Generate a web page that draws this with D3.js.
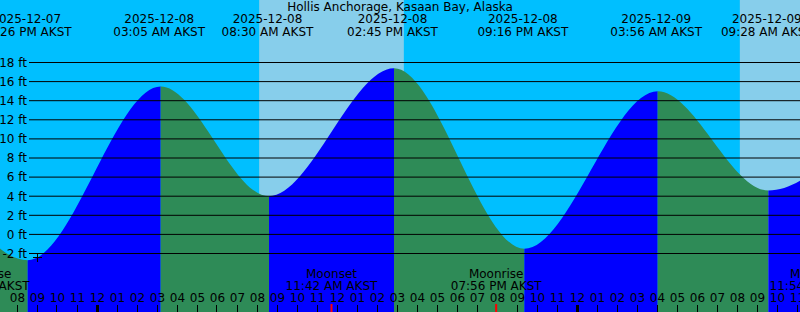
<!DOCTYPE html>
<html>
<head>
<meta charset="utf-8">
<script src="https://cdn.jsdelivr.net/npm/d3@7"></script>
<style>
  body { margin: 0; background: #fff; }
  text { font-family: "DejaVu Sans", sans-serif; font-size: 12px; fill: #000; }
</style>
</head>
<body>
<div id="chart"></div>
<script>
var svgWidth = 800;
var svgHeight = 312;

var title = "Hollis Anchorage, Kasaan Bay, Alaska";

// high / low tide events (AKST) and heights in ft
var tideTimes = ["2025-12-07 14:10", "2025-12-07 20:26", "2025-12-08 03:05", "2025-12-08 08:30",
    "2025-12-08 14:45", "2025-12-08 21:16", "2025-12-09 03:56", "2025-12-09 09:28", "2025-12-09 15:50"];
var tideHeights = [15.5, -2.7, 15.5, 4.0, 17.4, -1.5, 15.0, 4.6, 16.5];

// daylight spans
var sunrises = ["2025-12-08 08:05", "2025-12-09 08:07"];
var sunsets = ["2025-12-08 15:19", "2025-12-09 15:21"];

// moon events
var moonTimes = ["2025-12-07 18:20", "2025-12-08 11:42", "2025-12-08 19:56", "2025-12-09 11:54"];
var moonNames = ["Moonrise", "Moonset", "Moonrise", "Moonset"];

var levelTicks = [-2, 0, 2, 4, 6, 8, 10, 12, 14, 16, 18];

var parse = d3.utcParse("%Y-%m-%d %H:%M");
var fmtDate = d3.utcFormat("%Y-%m-%d");
var fmtTime = d3.utcFormat("%I:%M %p AKST");

var x = d3.scaleUtc()
    .domain([parse("2025-12-07 19:07"), parse("2025-12-09 11:07")])
    .range([-0.5, 799.5]);
// keep 20px per hour with midnight at 97.5
x.domain([new Date(Date.UTC(2025, 11, 7, 19, 7, 30)), new Date(Date.UTC(2025, 11, 9, 11, 7, 30))])
    .range([0, 800]);

var y = d3.scaleLinear()
    .domain([-2, 18])
    .range([253.5, 62.5]);

var shift = 1.5;

var svg = d3.select("#chart")
    .append("svg")
    .attr("width", svgWidth)
    .attr("height", svgHeight);

// night sky
svg.append("rect")
    .attr("width", svgWidth)
    .attr("height", svgHeight)
    .attr("fill", "#00BFFF");

// daylight
sunrises.forEach(function (s, i) {
    var x0 = x(parse(s)), x1 = x(parse(sunsets[i]));
    svg.append("rect")
        .attr("x", x0)
        .attr("y", 0)
        .attr("width", x1 - x0)
        .attr("height", svgHeight)
        .attr("fill", "#87CEEB");
});

var tideData = tideTimes.map(function (t, i) {
    return { t: parse(t), h: tideHeights[i] };
});

var area = d3.area()
    .x(d => x(d.t) + shift)
    .y0(svgHeight)
    .y1(d => y(d.h))
    .curve(d3.curveMonotoneX);

var defs = svg.append("defs");

// one clipped copy of the area per rising / falling phase
for (var i = 0; i < tideData.length - 1; i++) {
    var a = x(tideData[i].t) + shift;
    var b = x(tideData[i + 1].t) + shift;
    defs.append("clipPath")
        .attr("id", "seg" + i)
        .append("rect")
        .attr("x", a)
        .attr("y", 0)
        .attr("width", b - a)
        .attr("height", svgHeight);
    svg.append("path")
        .datum(tideData)
        .attr("d", area)
        .attr("clip-path", "url(#seg" + i + ")")
        .attr("fill", tideData[i + 1].h > tideData[i].h ? "#0000FF" : "#2E8B57");
}

// level grid
svg.selectAll(".grid")
    .data(levelTicks)
    .enter()
    .append("line")
    .attr("x1", 29)
    .attr("x2", svgWidth)
    .attr("y1", d => y(d))
    .attr("y2", d => y(d))
    .attr("stroke", "#000")
    .attr("stroke-width", 1);

svg.selectAll(".lvl")
    .data(levelTicks)
    .enter()
    .append("text")
    .attr("x", 27)
    .attr("y", d => y(d))
    .attr("dy", "0.36em")
    .attr("text-anchor", "end")
    .text(d => d + " ft");

// small cross mark
var markT = x(new Date(Date.UTC(2025, 11, 7, 21, 0)));
svg.append("path")
    .attr("d", `M${markT - 4.5},257.5H${markT + 4.5}M${markT},253V262`)
    .attr("stroke", "#000")
    .attr("stroke-width", 1);

// title
svg.append("text")
    .attr("x", 400)
    .attr("y", 11)
    .attr("text-anchor", "middle")
    .text(title);

// tide event labels
var head = svg.selectAll(".head")
    .data(tideData)
    .enter()
    .append("g")
    .attr("transform", d => `translate(${x(d.t)},0)`);
head.append("text")
    .attr("y", 23)
    .attr("text-anchor", "middle")
    .text(d => fmtDate(d.t));
head.append("text")
    .attr("y", 36)
    .attr("text-anchor", "middle")
    .text(d => fmtTime(d.t));

// hour ticks
var hours = d3.utcHour.range(x.domain()[0], x.domain()[1]);
svg.selectAll(".htick")
    .data(hours)
    .enter()
    .append("line")
    .attr("x1", d => Math.round(x(d)) - 0.5)
    .attr("x2", d => Math.round(x(d)) - 0.5)
    .attr("y1", 305)
    .attr("y2", svgHeight)
    .attr("stroke", "#000")
    .attr("stroke-width", d => d.getUTCHours() === 0 ? 3 : 1);

svg.selectAll(".hlabel")
    .data(hours)
    .enter()
    .append("text")
    .attr("x", d => x(d))
    .attr("y", 301.5)
    .attr("text-anchor", "middle")
    .text(d => d3.utcFormat("%I")(d));

// moon events
moonTimes.forEach(function (m, i) {
    var t = parse(m);
    var mx = x(t);
    svg.append("line")
        .attr("x1", mx)
        .attr("x2", mx)
        .attr("y1", 304)
        .attr("y2", svgHeight)
        .attr("stroke", "#FF0000")
        .attr("stroke-width", 2);
    svg.append("text")
        .attr("x", mx)
        .attr("y", 278)
        .attr("text-anchor", "middle")
        .text(moonNames[i]);
    svg.append("text")
        .attr("x", mx)
        .attr("y", 290)
        .attr("text-anchor", "middle")
        .text(fmtTime(t));
});
</script>
</body>
</html>
